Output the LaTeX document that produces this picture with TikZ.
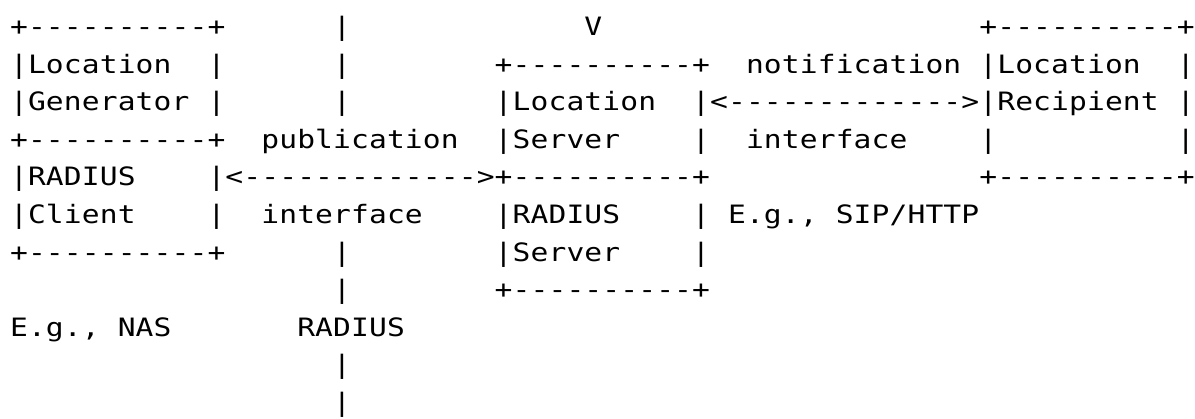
\documentclass[tikz,border=0pt]{standalone}
\usepackage{fontspec}
\newfontfamily\asciifont{DejaVu Sans Mono}
\newlength\cellw
\setlength\cellw{17.95pt}
% one fixed cell for every character, glyphs a little wider
\ExplSyntaxOn
\NewDocumentCommand\cells{m}{\tl_map_inline:nn {#1} {\makebox[\cellw][c]{\scalebox{1.17}[1]{##1}}}}
\ExplSyntaxOff

\begin{document}
\begin{tikzpicture}[x=\cellw,y=37.6pt,
  ascii/.style={anchor=base west,inner sep=0pt,outer sep=0pt,
    font=\asciifont\fontsize{25.3pt}{30pt}\selectfont}]

\useasboundingbox (-10pt,35.5pt) rectangle (1185pt,-382.5pt);

  % Location Generator / RADIUS Client
  \node[ascii] (gentop) at (0,0) {\cells{+----------+}};
  \node[ascii] (genl1) at (0,-1) {\cells{|Location}};
  \node[ascii] (genr1) at (11,-1) {\cells{|}};
  \node[ascii] (genl2) at (0,-2) {\cells{|Generator}};
  \node[ascii] (genr2) at (11,-2) {\cells{|}};
  \node[ascii] (genmid) at (0,-3) {\cells{+----------+}};
  \node[ascii] (clil1) at (0,-4) {\cells{|RADIUS}};
  \node[ascii] (clil2) at (0,-5) {\cells{|Client}};
  \node[ascii] (clir2) at (11,-5) {\cells{|}};
  \node[ascii] (clibot) at (0,-6) {\cells{+----------+}};
  \node[ascii] (nas) at (0,-8) {\cells{E.g.,~NAS}};

  % publication interface
  \node[ascii] (up0) at (18,0) {\cells{|}};
  \node[ascii] (up1) at (18,-1) {\cells{|}};
  \node[ascii] (up2) at (18,-2) {\cells{|}};
  \node[ascii] (pub) at (14,-3) {\cells{publication}};
  \node[ascii] (pubarrow) at (11,-4) {\cells{|<------------->+----------+}};
  \node[ascii] (pubif) at (14,-5) {\cells{interface}};
  \node[ascii] (down6) at (18,-6) {\cells{|}};
  \node[ascii] (down7) at (18,-7) {\cells{|}};
  \node[ascii] (radius) at (16,-8) {\cells{RADIUS}};
  \node[ascii] (down9) at (18,-9) {\cells{|}};
  \node[ascii] (down10) at (18,-10) {\cells{|}};

  % Location Server / RADIUS Server
  \node[ascii] (vee) at (32,0) {\cells{V}};
  \node[ascii] (srvtop) at (27,-1) {\cells{+----------+}};
  \node[ascii] (srvl2) at (27,-2) {\cells{|Location}};
  \node[ascii] (srvr2) at (38,-2) {\cells{|}};
  \node[ascii] (srvl3) at (27,-3) {\cells{|Server}};
  \node[ascii] (srvr3) at (38,-3) {\cells{|}};
  \node[ascii] (radl5) at (27,-5) {\cells{|RADIUS}};
  \node[ascii] (radr5) at (38,-5) {\cells{|}};
  \node[ascii] (radl6) at (27,-6) {\cells{|Server}};
  \node[ascii] (radr6) at (38,-6) {\cells{|}};
  \node[ascii] (radbot) at (27,-7) {\cells{+----------+}};

  % notification interface
  \node[ascii] (notif) at (41,-1) {\cells{notification}};
  \node[ascii] (notarrow) at (39,-2) {\cells{<------------->}};
  \node[ascii] (notif2) at (41,-3) {\cells{interface}};
  \node[ascii] (siphttp) at (40,-5) {\cells{E.g.,~SIP/HTTP}};

  % Location Recipient
  \node[ascii] (rectop) at (54,0) {\cells{+----------+}};
  \node[ascii] (recl1) at (54,-1) {\cells{|Location}};
  \node[ascii] (recr1) at (65,-1) {\cells{|}};
  \node[ascii] (recl2) at (54,-2) {\cells{|Recipient}};
  \node[ascii] (recr2) at (65,-2) {\cells{|}};
  \node[ascii] (recl3) at (54,-3) {\cells{|}};
  \node[ascii] (recr3) at (65,-3) {\cells{|}};
  \node[ascii] (recbot) at (54,-4) {\cells{+----------+}};

\end{tikzpicture}
\end{document}
